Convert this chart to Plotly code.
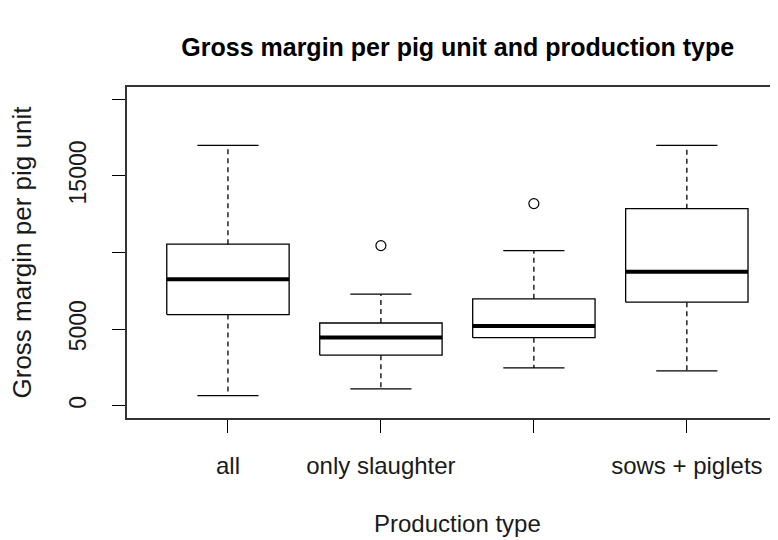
import plotly.graph_objects as go

# box statistics (R boxplot style)
categories = ["all", "only slaughter", "", "sows + piglets"]
lower_whisker = [660, 1100, 2470, 2280]
q1 = [5950, 3300, 4440, 6760]
median = [8250, 4460, 5200, 8750]
q3 = [10540, 5400, 6980, 12860]
upper_whisker = [16990, 7280, 10120, 16990]
outlier_x = [2, 3]
outlier_y = [10450, 13190]

y_ticks = [0, 5000, 10000, 15000, 20000]
y_tick_labels = ["0", "5000", "", "15000", ""]

FONT = "Liberation Sans, Arial, sans-serif"
half_box = 0.4
half_cap = 0.2
PAGE_OFFSET = 8  # default body margin of the html page

fig = go.Figure()

for i, name in enumerate(categories):
    x = i + 1
    # box outline
    fig.add_trace(go.Scatter(
        x=[x - half_box, x + half_box, x + half_box, x - half_box, x - half_box],
        y=[q1[i], q1[i], q3[i], q3[i], q1[i]],
        mode='lines', line=dict(color='black', width=1.3),
        hoverinfo='skip', showlegend=False
    ))
    # dashed whiskers
    fig.add_trace(go.Scatter(
        x=[x, x, None, x, x],
        y=[q3[i], upper_whisker[i], None, q1[i], lower_whisker[i]],
        mode='lines', line=dict(color='black', width=1.3, dash='5px,4px'),
        hoverinfo='skip', showlegend=False
    ))
    # whisker caps
    fig.add_trace(go.Scatter(
        x=[x - half_cap, x + half_cap, None, x - half_cap, x + half_cap],
        y=[upper_whisker[i], upper_whisker[i], None, lower_whisker[i], lower_whisker[i]],
        mode='lines', line=dict(color='black', width=1.3),
        hoverinfo='skip', showlegend=False
    ))
    # median
    fig.add_trace(go.Scatter(
        x=[x - half_box, x + half_box],
        y=[median[i], median[i]],
        mode='lines', line=dict(color='black', width=4),
        hoverinfo='skip', showlegend=False
    ))

fig.add_trace(go.Scatter(
    x=outlier_x, y=outlier_y, mode='markers',
    marker=dict(symbol='circle-open', size=10, color='black', line=dict(width=1.2)),
    showlegend=False
))

fig.update_layout(
    width=778, height=540,
    margin=dict(l=127 - PAGE_OFFSET, r=PAGE_OFFSET, t=87 - PAGE_OFFSET,
                b=540 - (418.5 - PAGE_OFFSET)),
    paper_bgcolor='white', plot_bgcolor='white',
    font=dict(family=FONT, size=24, color='#1a1a1a'),
    title=dict(
        text='<b>Gross margin per pig unit and production type</b>',
        x=0.508, xref='paper', xanchor='center',
        y=1 - (47 - PAGE_OFFSET) / 540, yref='container', yanchor='middle',
        font=dict(family=FONT, size=25, color='black')
    ),
    xaxis=dict(
        range=[0.34, 4.596], automargin=False,
        tickvals=[1, 2, 3, 4], ticktext=categories,
        tickfont=dict(size=24),
        ticks='outside', ticklen=13, tickwidth=1.3, tickcolor='black',
        ticklabelstandoff=12,
        showline=True, linecolor='#333', linewidth=1.5, mirror=True,
        showgrid=False, zeroline=False,
    ),
    yaxis=dict(
        range=[-800, 20800], automargin=False,
        tickvals=y_ticks, ticktext=y_tick_labels, tickangle=-90,
        tickfont=dict(size=23),
        ticks='outside', ticklen=13, tickwidth=1.3, tickcolor='black',
        ticklabelstandoff=17,
        showline=True, linecolor='#333', linewidth=1.5, mirror=False,
        showgrid=False, zeroline=False,
    ),
    annotations=[
        dict(text='Production type', xref='paper', yref='paper',
             x=0.5077, y=0, xanchor='center', yanchor='middle',
             yshift=-105, showarrow=False, font=dict(size=24)),
        dict(text='Gross margin per pig unit', xref='paper', yref='paper',
             x=0, y=0.5, xanchor='center', yanchor='middle', textangle=-90,
             xshift=-106, showarrow=False, font=dict(size=26)),
    ],
)

fig.write_html("out.html")
